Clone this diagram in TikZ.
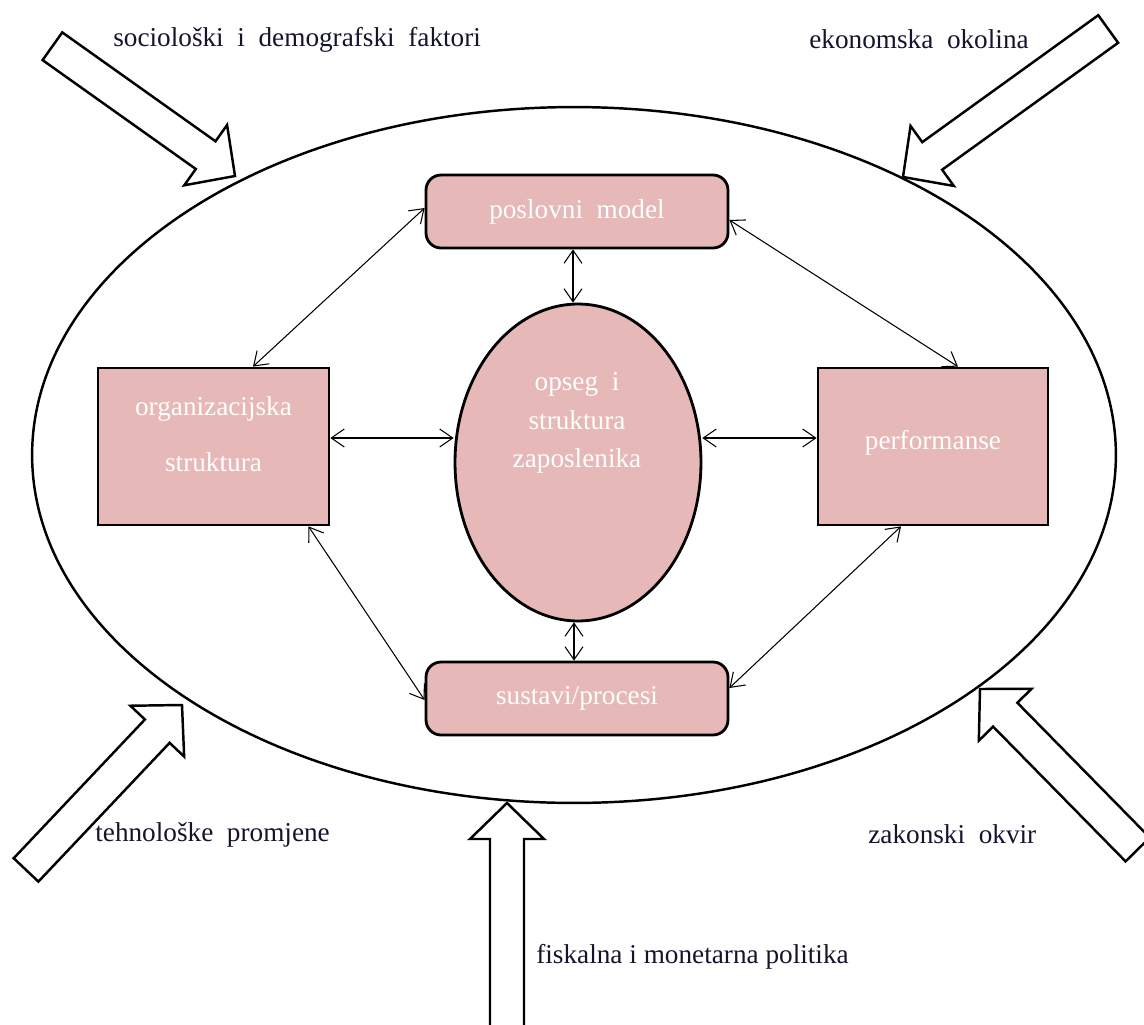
\documentclass[tikz,border=0pt]{standalone}
\usepackage{fontspec}
\setmainfont{Liberation Serif}
\usetikzlibrary{shapes.geometric,arrows.meta}
\definecolor{boxpink}{RGB}{230,184,183}
\definecolor{labelink}{RGB}{20,20,45}
\def\blockarrow(#1)(#2:#3){\begin{scope}[shift={(#1)},rotate=#2]
	\draw[line width=1.4pt,fill=white] (0,0) -- (-36,37) -- (-36,17) -- (-#3,17) -- (-#3,-17) -- (-36,-17) -- (-36,-37) -- cycle;
	\end{scope}}

\begin{document}
\begin{tikzpicture}[x=0.02cm,y=-0.02cm,
		box/.style={draw,line width=1.6pt,fill=boxpink,text=white,font=\fontsize{15.5}{18}\selectfont,align=center},
		factor/.style={anchor=west,inner sep=0pt,text=labelink,font=\fontsize{15.5}{18}\selectfont},
		link/.style={<->,line width=0.6pt,>={Straight Barb[length=2.6mm,width=3.6mm]}}]
				\useasboundingbox (0,0) rectangle (1144,1025);
				
				% okolina
				\node[draw,ellipse,line width=1.4pt,minimum width=21.68cm,minimum height=13.92cm] (env) at (574,455) {};
				
				\blockarrow(235,176)(-35.4:224)
				\blockarrow(903,177)(-144.2:253)
				\blockarrow(182,705)(46.6:227)
				\blockarrow(980,689)(134.5:225)
				\blockarrow(507,803)(90:235)
				
				\node[factor] (socdem) at (113,40) {sociološki \ i \ demografski \ faktori};
				\node[factor] (econ) at (809,39) {ekonomska \ okolina};
				\node[factor] (tech) at (95,835) {tehnološke \ promjene};
				\node[factor] (fisc) at (536,957) {fiskalna i monetarna politika};
				\node[factor] (law) at (868,834) {zakonski \ okvir};
				
				% poduzece
				\node[box,rounded corners=0.3cm,minimum width=6.04cm,minimum height=1.46cm] (model) at (577,211.5) {poslovni \ model};
				\node[box,minimum width=4.62cm,minimum height=3.14cm] (org) at (213.5,446.5) {organizacijska\\[14pt]struktura\\[-4pt]~};
				\node[box,minimum width=4.6cm,minimum height=3.14cm] (perf) at (933,446.5) {performanse\\[-10pt]~};
				\node[box,ellipse,minimum width=4.92cm,minimum height=6.34cm] (staff) at (578,462.5) {};
				\node[box,draw=none,fill=none] (stafftext) at (577,423) {opseg \ i\\[4pt]struktura\\[4pt]zaposlenika};
				\node[box,rounded corners=0.3cm,minimum width=6.04cm,minimum height=1.46cm] (sys) at (577,698.5) {sustavi/procesi};
				
				\draw[link] ([yshift=0.17cm]org.east) -- ([yshift=0.17cm]org.east -| staff.west);
				\draw[link] ([yshift=0.17cm]perf.west -| staff.east) -- ([yshift=0.17cm]perf.west);
				\draw[link] ([xshift=-0.08cm]model.south) -- ([xshift=-0.08cm]model.south |- staff.north);
				\draw[link] ([xshift=-0.08cm]staff.south) -- ([xshift=-0.08cm]staff.south |- sys.north);
				\draw[link] ([yshift=0.07cm]model.west) -- ([xshift=0.79cm]org.north);
				\draw[link] ([yshift=-0.17cm]model.east) -- ([xshift=0.5cm]perf.north);
				\draw[link] ([xshift=1.9cm]org.south) -- ([yshift=-0.03cm]sys.west);
				\draw[link] ([xshift=-0.64cm]perf.south) -- ([yshift=0.21cm]sys.east);
			\end{tikzpicture}
\end{document}
